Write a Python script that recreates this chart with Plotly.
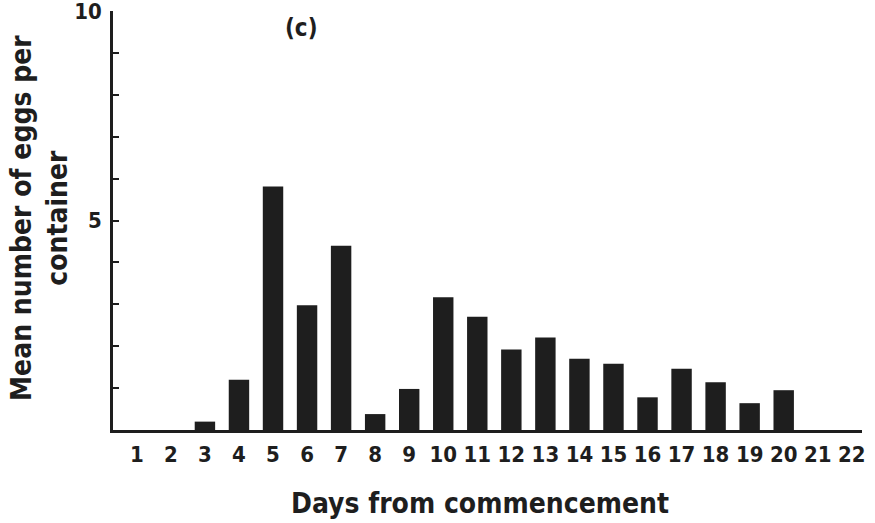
import plotly.graph_objects as go

days = list(range(1, 23))
mean_eggs = [0, 0, 0.2, 1.2, 5.81, 2.98, 4.4, 0.38, 0.98, 3.17,
             2.7, 1.92, 2.21, 1.7, 1.58, 0.78, 1.46, 1.14, 0.64, 0.95, 0, 0]
y_tickvals = list(range(0, 11))
y_ticktext = ["" if v not in (5, 10) else str(v) for v in y_tickvals]

FONT = "DejaVu Sans Condensed, DejaVu Sans"
INK = "#1e1e1e"
W, H = 875, 523
ML, MR, MT, MB = 113, 13, 11, 93

fig = go.Figure()
fig.add_trace(go.Bar(x=days, y=mean_eggs, marker=dict(color=INK, line=dict(width=0)),
                     width=0.6))

fig.update_layout(
    width=W, height=H,
    margin=dict(l=ML, r=MR, t=MT, b=MB),
    plot_bgcolor="white", paper_bgcolor="white",
    showlegend=False,
    font=dict(family=FONT, color=INK),
    xaxis=dict(range=[0.3, 22.3], tickmode="array", tickvals=days,
               ticktext=[str(d) for d in days], ticks="", showgrid=False,
               zeroline=False, showline=True, linecolor=INK, linewidth=2.5,
               tickfont=dict(family=FONT, size=22, weight="bold", color=INK),
               ticklabelstandoff=3, automargin=False),
    yaxis=dict(range=[0, 10], tickmode="array", tickvals=y_tickvals,
               ticktext=y_ticktext, ticks="inside", ticklen=6, tickwidth=2,
               tickcolor=INK, showgrid=False, zeroline=False, showline=True,
               linecolor=INK, linewidth=2.5, ticklabeloverflow="allow",
               tickfont=dict(family=FONT, size=22, weight="bold", color=INK),
               ticklabelstandoff=4, automargin=False),
    bargap=0.4,
)

pw = W - ML - MR
ph = H - MT - MB
def px_to_paper(xp, yp):
    return (xp - ML) / pw, (H - MB - yp) / ph

cx, cy = px_to_paper(301, 28)
fig.add_annotation(text="(c)", x=cx, y=cy, xref="paper", yref="paper",
                   showarrow=False, xanchor="center", yanchor="middle",
                   font=dict(family=FONT, size=24, weight="bold", color=INK))
ax, ay = px_to_paper(480, 504)
fig.add_annotation(text="Days from commencement", x=ax, y=ay, xref="paper", yref="paper",
                   showarrow=False, xanchor="center", yanchor="middle",
                   font=dict(family=FONT, size=28, weight="bold", color=INK))
bx, by = px_to_paper(39, 218)
fig.add_annotation(text="Mean number of eggs per<br>container", x=bx, y=by,
                   xref="paper", yref="paper", showarrow=False, textangle=-90,
                   xanchor="center", yanchor="middle",
                   font=dict(family=FONT, size=28, weight="bold", color=INK))

fig.write_html("out.html")
